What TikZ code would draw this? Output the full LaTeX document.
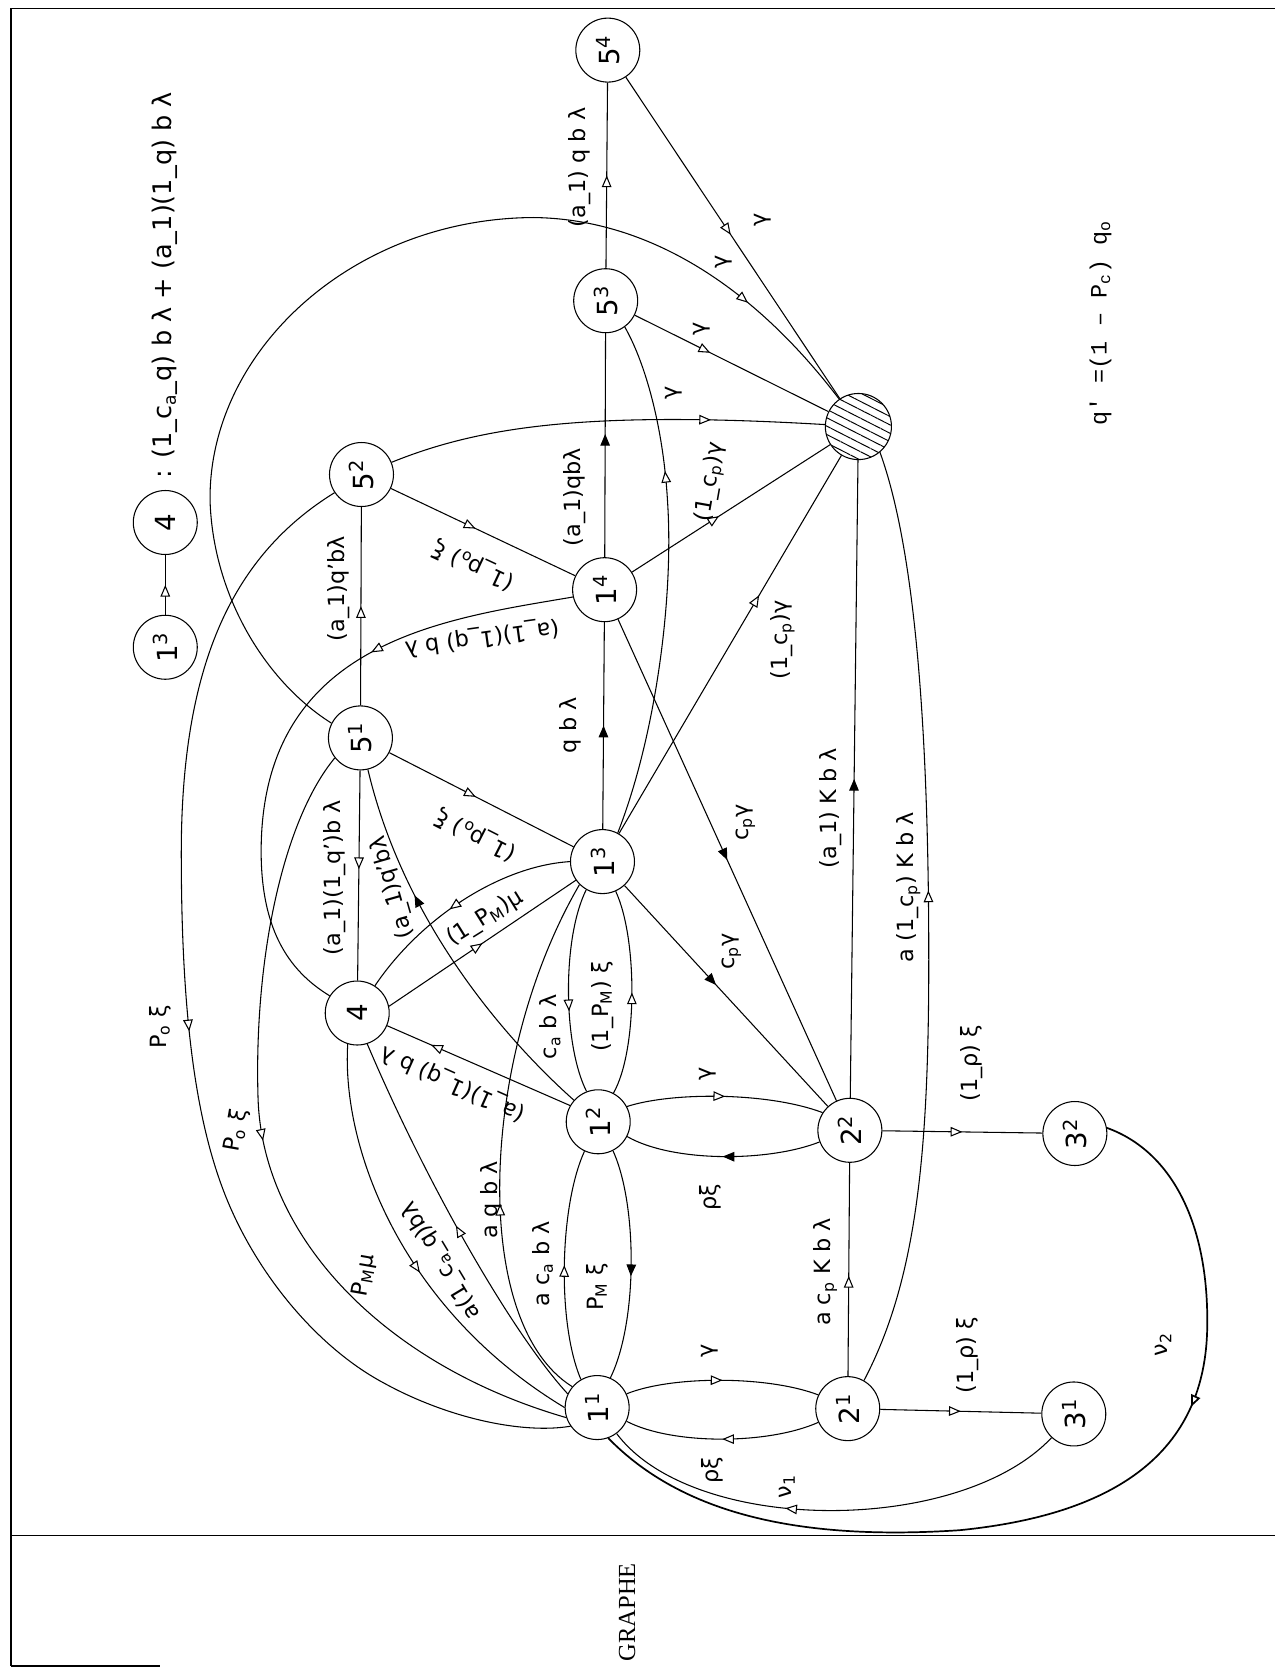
\documentclass[tikz,border=0pt]{standalone}
\usepackage{fontspec}
\setmainfont{DejaVu Sans}
\newfontfamily\serifgr{Liberation Serif}
\newfontfamily\typew{Liberation Mono}
\usetikzlibrary{arrows.meta,decorations.markings,patterns.meta}

\begin{document}
\begin{tikzpicture}[x=0.5pt,y=-0.5pt,line width=0.5pt,
  st/.style={draw,circle,minimum size=30pt,inner sep=0pt,font=\fontsize{13}{15}\selectfont},
  lb/.style={inner sep=0.5pt,font=\fontsize{10.5}{12}\selectfont,rotate=#1},
  lb/.default=90,
  ao/.style={postaction={decorate,decoration={markings,mark=at position #1 with {\arrow{Triangle[length=5.5pt,width=4.5pt,fill=white]}}}}},
  ao/.default=0.5,
  af/.style={postaction={decorate,decoration={markings,mark=at position #1 with {\arrow{Triangle[length=5.5pt,width=4.5pt]}}}}},
  af/.default=0.5]
\useasboundingbox (0,0) rectangle (1196,1568);
\draw[line width=0.9pt] (10,1562) -- (10,8) -- (1196,8);
\draw[line width=0.9pt] (10,1440) -- (1196,1440);
\draw[line width=0.9pt] (10,1562) -- (150,1562);
\node[rotate=90,font=\serifgr\fontsize{11.5}{13}\selectfont] (titre) at (588,1512) {GRAPHE};
\node[lb,font=\typew\fontsize{11}{13}\selectfont] (qform) at (1032,303) {q' =(1 – P\textsubscript{c}) q\textsubscript{o}};

\node[st] (L13) at (155,607) {\rotatebox{90}{1\textsuperscript{3}}};
\node[st] (L4) at (155,490) {\rotatebox{90}{4}};
\draw[ao] (L13) -- (L4);
\node[lb,anchor=west,font=\fontsize{12}{14}\selectfont] (legtxt) at (155,450) {: (1\_c\textsubscript{a}\_q) b λ + (a\_1)(1\_q) b λ};

\node[st] (n54) at (570,47) {\rotatebox{90}{5\textsuperscript{4}}};
\node[st] (n53) at (568,282) {\rotatebox{90}{5\textsuperscript{3}}};
\node[st] (n52) at (339,445) {\rotatebox{90}{5\textsuperscript{2}}};
\node[st] (n14) at (567,553) {\rotatebox{90}{1\textsuperscript{4}}};
\node[st] (n51) at (338,692) {\rotatebox{90}{5\textsuperscript{1}}};
\node[st] (n13) at (565,808) {\rotatebox{90}{1\textsuperscript{3}}};
\node[st] (n4) at (335,950) {\rotatebox{90}{4}};
\node[st] (n12) at (561,1052) {\rotatebox{90}{1\textsuperscript{2}}};
\node[st] (n22) at (797,1060) {\rotatebox{90}{2\textsuperscript{2}}};
\node[st] (n32) at (1008,1063) {\rotatebox{90}{3\textsuperscript{2}}};
\node[st] (n11) at (560,1320) {\rotatebox{90}{1\textsuperscript{1}}};
\node[st] (n21) at (795,1321) {\rotatebox{90}{2\textsuperscript{1}}};
\node[st] (n31) at (1007,1326) {\rotatebox{90}{3\textsuperscript{1}}};
\node[draw,circle,minimum size=31pt,pattern={Lines[angle=-27,distance=3.5pt,line width=0.45pt]}] (nH) at (805,400) {};

\draw[ao] (n53) -- (n54);
\draw[af=0.55] (n14) -- (n53);
\draw[af] (n13) -- (n14);
\draw[ao=0.49] (n54) -- (nH);
\draw[ao=0.39] (n53) -- (nH);
\draw[ao=0.74] (n52) .. controls (450,400) and (550,385) .. (nH);
\draw[ao=0.44] (n14) -- (nH);
\draw[ao=0.63] (n13) -- (nH);
\draw[af] (n14) -- (n22);
\draw[af=0.45] (n13) -- (n22);
\draw[af] (n22) -- (nH);
\draw[ao=0.53] (n21.60) .. controls (860,1200) and (871,1080) .. (871,900) .. controls (871,700) and (860,520) .. (nH.310);
\draw[ao=0.88] (n51.153) .. controls (250,640) and (200,560) .. (197,470) .. controls (195,330) and (330,205) .. (500,204) .. controls (600,205) and (700,260) .. (nH.125);
\draw[ao=0.71] (n13.62) .. controls (615,690) and (632,560) .. (626,470) .. controls (622,400) and (605,340) .. (n53.306);

\draw[ao] (n51) -- (n52);
\draw[ao=0.47] (n51) -- (n4);
\draw[ao=0.47] (n51) -- (n13);
\draw[ao=0.46] (n52) -- (n14);
\draw[ao=0.34] (n14.193) .. controls (420,580) and (250,600) .. (245,790) .. controls (243,870) and (270,910) .. (n4.148);
\draw[ao=0.55] (n13.180) .. controls (470,812) and (395,860) .. (n4.57);
\draw[ao] (n4.12) -- (n13.215);
\draw[ao=0.76] (n12.150) -- (n4.337);
\draw[af=0.66] (n12) .. controls (480,980) and (380,870) .. (n51);

\draw[ao=0.49] (n52.214) .. controls (220,520) and (170,620) .. (170,800) .. controls (170,960) and (185,1060) .. (215,1130) .. controls (245,1200) and (300,1265) .. (360,1297) .. controls (420,1330) and (490,1345) .. (n11.215);
\draw[ao=0.48] (n51.218) .. controls (265,770) and (238,900) .. (242,1030) .. controls (246,1160) and (360,1280) .. (n11.198);
\draw[ao=0.55] (n4.253) .. controls (320,1080) and (380,1230) .. (n11.180);
\draw[ao] (n11.155) .. controls (480,1250) and (400,1110) .. (n4.288);
\draw[ao=0.38] (n11.140) .. controls (440,1240) and (450,990) .. (n13.225);
\draw[ao] (n11.120) .. controls (522,1240) and (525,1130) .. (n12.245);
\draw[af=0.55] (n12.297) .. controls (598,1130) and (598,1240) .. (n11.66);
\draw[ao=0.6] (n13.240) .. controls (527,880) and (528,980) .. (n12.111);
\draw[ao] (n12.62) .. controls (598,985) and (598,880) .. (n13.294);

\draw[ao] (n12.28) .. controls (630,1024) and (720,1024) .. (n22.147);
\draw[af] (n22.201) .. controls (720,1090) and (630,1090) .. (n12.333);
\draw[ao] (n11.25) .. controls (630,1290) and (720,1290) .. (n21.155);
\draw[ao] (n21.205) .. controls (720,1355) and (630,1355) .. (n11.335);
\draw[ao=0.47] (n21) -- (n22);
\draw[ao] (n22) -- (n32);
\draw[ao] (n21) -- (n31);
\draw[ao=0.6] (n31) .. controls (900,1440) and (650,1440) .. (n11);
\draw[ao=0.33,line width=0.8pt] (n32.10) .. controls (1100,1080) and (1135,1150) .. (1132,1250) .. controls (1128,1360) and (1050,1420) .. (900,1435) .. controls (750,1445) and (640,1420) .. (n11.290);

\node[lb] (l5354) at (544,157) {(a\_1) q b λ};
\node[lb] (l1453) at (539,466) {(a\_1)qbλ};
\node[lb] (l1314) at (535,680) {q b λ};
\node[lb] (l5152) at (318,552) {(a\_1)q'bλ};
\node[lb] (l514) at (314,823) {(a\_1)(1\_q')b λ};
\node[lb=153] (l5113) at (446,783) {(1\_p\textsubscript{o}) ξ};
\node[lb=155] (l5214) at (444,530) {(1\_p\textsubscript{o}) ξ};
\node[lb=188] (l144) at (452,598) {(a\_1)(1\_q) b λ};
\node[lb=32] (l134) at (455,861) {(1\_P\textsubscript{M})μ};
\node[lb=156] (l124) at (425,1016) {(a\_1)(1\_q) b λ};
\node[lb=106] (l1251) at (368,832) {(a\_1)q'bλ};
\node[lb] (l1113) at (461,1125) {a q b λ};
\node[lb] (l1112) at (509,1185) {a c\textsubscript{a} b λ};
\node[lb] (l1211) at (560,1207) {P\textsubscript{M} ξ};
\node[lb] (l1312) at (516,963) {c\textsubscript{a} b λ};
\node[lb] (l1213) at (565,944) {(1\_P\textsubscript{M}) ξ};
\node[lb] (l1322) at (686,892) {c\textsubscript{p}γ};
\node[lb] (l1422) at (699,771) {c\textsubscript{p}γ};
\node[lb] (l13H) at (734,600) {(1\_c\textsubscript{p})γ};
\node[lb=80] (l14H) at (667,452) {(1\_c\textsubscript{p})γ};
\node[lb] (l52H) at (632,368) {γ};
\node[lb] (l53H) at (658,308) {γ};
\node[lb] (l54H) at (715,206) {γ};
\node[lb] (l51H) at (679,246) {γ};
\node[lb] (l22H) at (779,758) {(a\_1) K b λ};
\node[lb] (l21H) at (852,832) {a (1\_c\textsubscript{p}) K b λ};
\node[lb] (l2122) at (774,1193) {a c\textsubscript{p} K b λ};
\node[lb] (l1222) at (664,1007) {γ};
\node[lb] (l2212) at (666,1123) {ρξ};
\node[lb] (l1121) at (666,1267) {γ};
\node[lb] (l2111) at (668,1379) {ρξ};
\node[lb] (l2232) at (911,997) {(1\_ρ) ξ};
\node[lb] (l2131) at (907,1271) {(1\_ρ) ξ};
\node[lb] (l3111) at (738,1394) {ν\textsubscript{1}};
\node[lb] (l3211) at (1091,1261) {ν\textsubscript{2}};
\node[lb] (l5211) at (150,963) {P\textsubscript{o} ξ};
\node[lb=80] (l5111) at (222,1060) {P\textsubscript{o} ξ};
\node[lb=80] (l411) at (342,1196) {P\textsubscript{M}μ};
\node[lb=121] (l114) at (414,1182) {a(1\_c\textsubscript{a}\_q)bλ};
\end{tikzpicture}
\end{document}
